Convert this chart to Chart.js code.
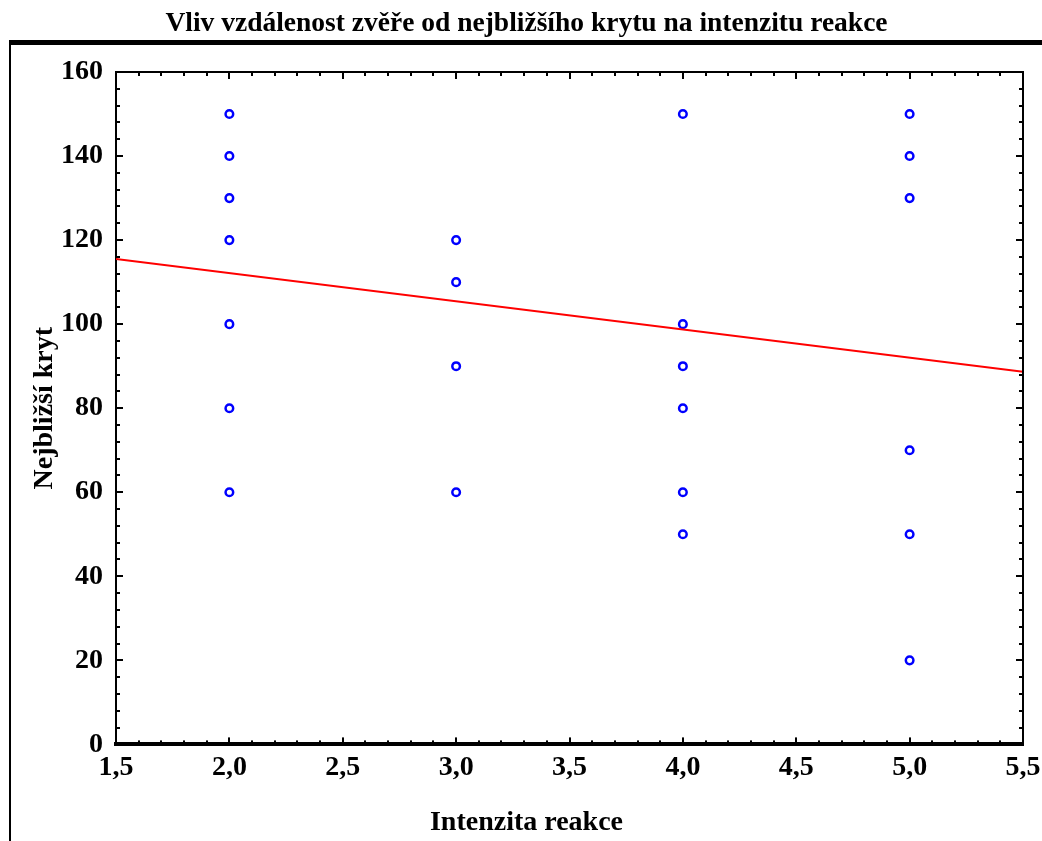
<!DOCTYPE html>
<html><head><meta charset="utf-8">
<script src="https://cdn.jsdelivr.net/npm/chart.js@4.4.1/dist/chart.umd.min.js"></script>
<style>html,body{margin:0;padding:0;background:#fff}#wrap{width:1042px;height:841px}</style>
</head><body><div id="wrap"><canvas id="c" width="1042" height="841"></canvas></div>
<script>
const chartTitle = 'Vliv vzdálenost zvěře od nejbližšího krytu na intenzitu reakce';
const xTitle = 'Intenzita reakce';
const yTitle = 'Nejbližší kryt';
const intensity = [2, 2, 2, 2, 2, 2, 2, 3, 3, 3, 3, 4, 4, 4, 4, 4, 4, 5, 5, 5, 5, 5, 5];
const cover     = [150, 140, 130, 120, 100, 80, 60, 120, 110, 90, 60, 150, 100, 90, 80, 60, 50, 150, 140, 130, 70, 50, 20];
const fitX = [1.5, 5.5];
const fitY = [115.5, 88.7];
const xTickValues = [1.5, 2.0, 2.5, 3.0, 3.5, 4.0, 4.5, 5.0, 5.5];
const yTickValues = [0, 20, 40, 60, 80, 100, 120, 140, 160];

const FONT = "'Liberation Serif', 'Times New Roman', serif";

const framePlugin = {
  id: 'frame',
  beforeDraw(chart) {
    const ctx = chart.ctx;
    ctx.save();
    ctx.fillStyle = '#fff';
    ctx.fillRect(0, 0, chart.width, chart.height);
    ctx.fillStyle = '#000';
    ctx.fillRect(9, 40, chart.width - 9, 5);
    ctx.fillRect(9, 40, 2, chart.height - 40);
    ctx.restore();
  },
  afterDraw(chart) {
    const ctx = chart.ctx, a = chart.chartArea, x = chart.scales.x, y = chart.scales.y;
    ctx.save();
    ctx.fillStyle = '#000';
    ctx.fillRect(a.left - 1, a.top - 1, a.right - a.left + 2, 2);
    ctx.fillRect(a.right - 1, a.top - 1, 2, a.bottom - a.top + 2);
    for (let i = 0; i <= 40; i++) {
      const v = x.min + i * 0.1;
      const px = Math.round(x.getPixelForValue(v));
      const major = i % 5 === 0;
      const L = major ? 7 : 4;
      ctx.fillRect(px - 1, a.top, 2, L);
      ctx.fillRect(px - 1, a.bottom - L, 2, L);
    }
    for (let v = y.min; v <= y.max; v += 4) {
      const py = Math.round(y.getPixelForValue(v));
      const major = v % 20 === 0;
      const L = major ? 7 : 4;
      ctx.fillRect(a.left, py - 1, L, 2);
      ctx.fillRect(a.right - L, py - 1, L, 2);
    }
    ctx.restore();
  }
};

const points = intensity.map((v, i) => ({ x: v, y: cover[i] }));
const fitLine = fitX.map((v, i) => ({ x: v, y: fitY[i] }));

new Chart(document.getElementById('c'), {
  type: 'scatter',
  data: {
    datasets: [
      {
        type: 'line',
        data: fitLine,
        borderColor: '#ff0000',
        borderWidth: 2,
        pointRadius: 0,
        fill: false,
        tension: 0
      },
      {
        data: points,
        pointStyle: 'circle',
        pointRadius: 3.8,
        borderWidth: 2.5,
        borderColor: '#0000ff',
        backgroundColor: '#ffffff'
      }
    ]
  },
  options: {
    responsive: false,
    animation: false,
    devicePixelRatio: 1,
    layout: { padding: { left: 30, right: 19, top: 0, bottom: 0 } },
    plugins: {
      legend: { display: false },
      tooltip: { enabled: false },
      title: {
        display: true,
        text: chartTitle,
        color: '#000',
        font: { family: FONT, size: 27.5, weight: 'bold', lineHeight: 1.2 },
        padding: { top: 7, bottom: 32 }
      },
      subtitle: {
        display: true,
        position: 'bottom',
        text: xTitle,
        color: '#000',
        font: { family: FONT, size: 28, weight: 'bold', lineHeight: 1.2 },
        padding: { top: 6, bottom: 1 }
      }
    },
    scales: {
      x: {
        type: 'linear',
        min: 1.5,
        max: 5.5,
        afterBuildTicks(s) { s.ticks = xTickValues.map(v => ({ value: v })); },
        afterFit(s) { s.height = 56; s.paddingLeft = 0; s.paddingRight = 0; },
        grid: { display: false, drawTicks: false },
        border: { display: true, color: '#000', width: 4 },
        ticks: {
          color: '#000',
          padding: 7,
          maxRotation: 0,
          autoSkip: false,
          font: { family: FONT, size: 28, weight: 'bold' },
          callback: v => Number(v).toFixed(1).replace('.', ',')
        }
      },
      y: {
        type: 'linear',
        min: 0,
        max: 160,
        afterBuildTicks(s) { s.ticks = yTickValues.map(v => ({ value: v })); },
        afterFit(s) { s.width = 86; s.paddingTop = 0; s.paddingBottom = 0; },
        grid: { display: false, drawTicks: false },
        border: { display: true, color: '#000', width: 2 },
        title: {
          display: true,
          text: yTitle,
          color: '#000',
          font: { family: FONT, size: 28, weight: 'bold', lineHeight: 1.2 },
          padding: { top: -2, bottom: 0 }
        },
        ticks: {
          color: '#000',
          padding: 13,
          autoSkip: false,
          font: { family: FONT, size: 28, weight: 'bold' },
          callback: v => String(v)
        }
      }
    }
  },
  plugins: [framePlugin]
});
</script>
</body></html>
